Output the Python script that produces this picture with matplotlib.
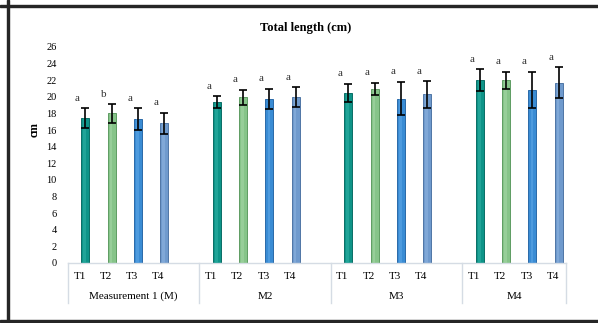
import matplotlib.pyplot as plt
from matplotlib.patches import Rectangle
from matplotlib.lines import Line2D

plt.rcParams['font.family'] = ['Liberation Serif', 'DejaVu Serif']

groups = ['Measurement 1 (M)', 'M2', 'M3', 'M4']
treatments = ['T1', 'T2', 'T3', 'T4']
means = [
    [17.4, 18.0, 17.3, 16.8],
    [19.35, 19.95, 19.75, 19.95],
    [20.45, 20.95, 19.8, 20.3],
    [22.0, 22.0, 20.85, 21.7],
]
sds = [
    [1.2, 1.1, 1.3, 1.3],
    [0.7, 0.9, 1.2, 1.2],
    [1.1, 0.75, 2.0, 1.6],
    [1.35, 1.05, 2.15, 1.85],
]
letters = [
    ['a', 'b', 'a', 'a'],
    ['a', 'a', 'a', 'a'],
    ['a', 'a', 'a', 'a'],
    ['a', 'a', 'a', 'a'],
]
colors = ['#0E9488', '#86C489', '#3A8CD4', '#6F9ACD']
edges = ['#0A6E66', '#5E9C62', '#2A6AA8', '#4F76A6']
shine = ['#2FB0A4', '#A3D6A5', '#5DA6E6', '#8DB2DE']

fig = plt.figure(figsize=(5.98, 3.23), dpi=100)
ax = fig.add_axes([0.1132, 0.1858, 0.8333, 0.6687])

slot = 5  # each measurement block takes five category slots
for g, grp in enumerate(groups):
    for i, t in enumerate(treatments):
        x = g * slot + i + 0.67
        m, s = means[g][i], sds[g][i]
        ax.bar(x, m, width=0.3, color=colors[i], edgecolor=edges[i], linewidth=0.7, zorder=2)
        # lighter stripe down the middle for the shaded look
        ax.bar(x - 0.02, m, width=0.1, color=shine[i], linewidth=0, zorder=2.1, alpha=0.6)
        ax.errorbar(x, m, yerr=s, fmt='none', ecolor='black', elinewidth=1.2,
                    capsize=3, capthick=1.2, zorder=3)
        ax.text(x - 0.3, m + s + 1.2, letters[g][i], ha='center', va='center',
                fontsize=8, color='#333333')
        ax.text(g * slot + i + 0.45, -0.063, t, transform=ax.get_xaxis_transform(),
                ha='center', va='center', fontsize=8)
    x0 = g * slot
    x1 = min(x0 + slot, 18.95)
    ax.text((x0 + x1) / 2, -0.153, grp, transform=ax.get_xaxis_transform(),
            ha='center', va='center', fontsize=8)

# category axis box
trans = ax.get_xaxis_transform()
ax.add_line(Line2D([0, 18.95], [0, 0], transform=trans, color='#D5DCE4', lw=1.0, clip_on=False))
for xs in [0, 5, 10, 15, 18.95]:
    ax.add_line(Line2D([xs, xs], [0, -0.184], transform=trans, color='#D5DCE4', lw=1.0, clip_on=False))

ax.set_xlim(0, 18.95)
ax.set_ylim(0, 26)
ax.set_yticks(range(0, 27, 2))
ax.set_xticks([])
ax.tick_params(axis='y', length=0, labelsize=7.5, pad=8)
for sp in ax.spines.values():
    sp.set_visible(False)

fig.text(305.7 / 598, 1 - 28 / 323, 'Total length (cm)', ha='center', va='center',
         fontsize=9, fontweight='bold')
fig.text(35 / 598, 1 - 130 / 323, 'cm', ha='center', va='center', rotation=90,
         fontsize=8.5, fontweight='bold')

# outer frame
for xy, w, h in [((7 / 598, 0), 2 / 598, 1), ((0, 1 - 7 / 323), 1, 2 / 323),
                 ((0, 1 / 323), 1, 2.5 / 323)]:
    fig.add_artist(Rectangle(xy, w, h, transform=fig.transFigure, color='#262626'))

fig.savefig('out.png', dpi=100)
